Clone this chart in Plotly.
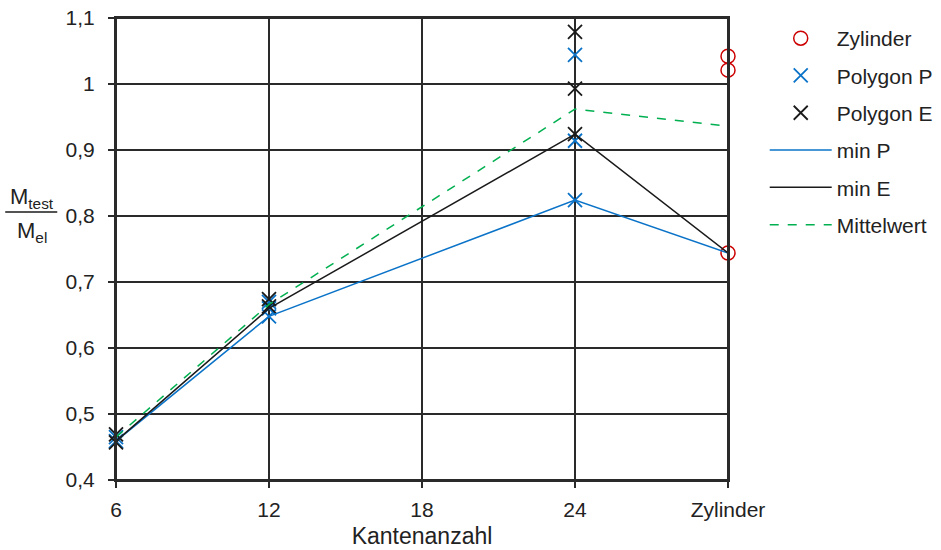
import plotly.graph_objects as go

# categories (position index on axis)
x_tickvals = [6, 12, 18, 24, 30]
x_ticktext = ["6", "12", "18", "24", "Zylinder"]
y_tickvals = [0.4, 0.5, 0.6, 0.7, 0.8, 0.9, 1.0, 1.1]
y_ticktext = ["0,4", "0,5", "0,6", "0,7", "0,8", "0,9", "1", "1,1"]

# Zylinder measurements
zyl_x = [30, 30, 30]
zyl_y = [1.042, 1.021, 0.744]

# Polygon P measurements
polyP_x = [6, 6, 12, 12, 12, 24, 24, 24]
polyP_y = [0.465, 0.459, 0.670, 0.648, 0.660, 1.044, 0.914, 0.824]

# Polygon E measurements
polyE_x = [6, 6, 12, 12, 24, 24, 24]
polyE_y = [0.469, 0.457, 0.674, 0.663, 1.079, 0.993, 0.924]

# lines
line_x = [6, 12, 24, 30]
minP_y = [0.459, 0.648, 0.824, 0.744]
minE_y = [0.459, 0.660, 0.924, 0.744]
mittel_y = [0.465, 0.666, 0.962, 0.936]

RED = "#cc0000"
BLUE = "#0a73c8"
BLACK = "#1a1a1a"
GREEN = "#00b050"
GRID = "#2a2a2a"

fig = go.Figure()
fig.add_trace(go.Scatter(x=zyl_x, y=zyl_y, mode="markers", name="Zylinder",
                         marker=dict(symbol="circle-open", size=14, color=RED, line=dict(width=1.5)),
                         legendgroup="a", cliponaxis=False))
fig.add_trace(go.Scatter(x=polyP_x, y=polyP_y, mode="markers", name="Polygon P",
                         marker=dict(symbol="x-thin-open", size=14, color=BLUE, line=dict(width=1.8, color=BLUE)),
                         legendgroup="b", cliponaxis=False))
fig.add_trace(go.Scatter(x=polyE_x, y=polyE_y, mode="markers", name="Polygon E",
                         marker=dict(symbol="x-thin-open", size=14, color=BLACK, line=dict(width=1.8, color=BLACK)),
                         legendgroup="c", cliponaxis=False))
fig.add_trace(go.Scatter(x=line_x, y=minP_y, mode="lines", name="min P",
                         line=dict(color=BLUE, width=1.5), legendgroup="d"))
fig.add_trace(go.Scatter(x=line_x, y=minE_y, mode="lines", name="min E",
                         line=dict(color=BLACK, width=1.5), legendgroup="e"))
fig.add_trace(go.Scatter(x=line_x, y=mittel_y, mode="lines", name="Mittelwert",
                         line=dict(color=GREEN, width=1.5, dash="dash"), legendgroup="f"))

font = "Liberation Sans, Arial, sans-serif"
fig.update_layout(
    width=941, height=550,
    margin=dict(l=116, r=213, t=18, b=70, autoexpand=False),
    paper_bgcolor="white", plot_bgcolor="white",
    font=dict(family=font, size=21, color="#222222"),
    showlegend=True,
    legend=dict(x=1.06, y=1.0, xanchor="left", yanchor="top",
                font=dict(size=21, color="#222222"), tracegroupgap=7,
                traceorder="grouped", itemwidth=62, bgcolor="rgba(0,0,0,0)"),
    xaxis=dict(range=[6, 30], tickvals=x_tickvals, ticktext=x_ticktext,
               showgrid=True, gridcolor=GRID, gridwidth=1.5, zeroline=False,
               showline=True, linecolor=GRID, linewidth=2, mirror=True,
               ticks="outside", ticklen=6, tickcolor=GRID, tickwidth=1.5,
               ticklabelstandoff=4, automargin=False, ticklabeloverflow="allow",
               title=dict(text="Kantenanzahl", font=dict(size=23), standoff=8),
               tickfont=dict(size=21)),
    yaxis=dict(range=[0.4, 1.1], tickvals=y_tickvals, ticktext=y_ticktext,
               showgrid=True, gridcolor=GRID, gridwidth=1.5, zeroline=False,
               showline=True, linecolor=GRID, linewidth=2, mirror=True,
               ticks="outside", ticklen=6, tickcolor=GRID, tickwidth=1.5,
               ticklabelstandoff=9, automargin=False, ticklabeloverflow="allow",
               tickfont=dict(size=21)),
)

# plot frame
fig.add_shape(type="rect", xref="paper", yref="paper", x0=0, x1=1, y0=0, y1=1,
              line=dict(color=GRID, width=2), layer="above")

# y-axis fraction label
fig.add_annotation(xref="paper", yref="paper", x=-0.137, y=0.575, xanchor="center", yanchor="bottom",
                   text="M<sub>test</sub>", showarrow=False, font=dict(size=22))
fig.add_annotation(xref="paper", yref="paper", x=-0.137, y=0.571, xanchor="center", yanchor="top",
                   text="M<sub>el</sub>", showarrow=False, font=dict(size=22))
fig.add_shape(type="line", xref="paper", yref="paper", x0=-0.181, x1=-0.096, y0=0.580, y1=0.580,
              line=dict(color=BLACK, width=1.5))

fig.write_html("out.html", config={"displayModeBar": False},
               post_script="document.body.style.margin='0';")
